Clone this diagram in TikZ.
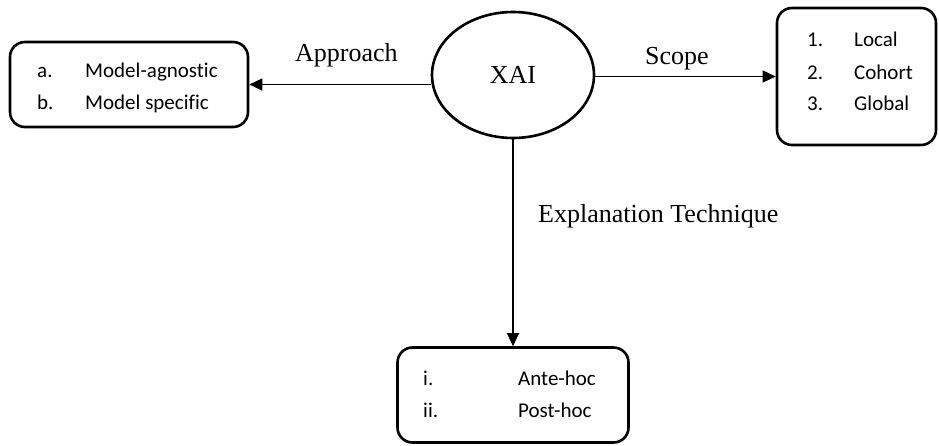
\documentclass[tikz,border=0pt]{standalone}
\usepackage{fontspec}
\setmainfont{Liberation Serif}
\newfontfamily\calibri[Ligatures={NoCommon}]{Carlito}
\usetikzlibrary{shapes.geometric,arrows.meta}
\begin{document}
\begin{tikzpicture}[x=1pt,y=-1pt,
  box/.style={draw,line width=2.6pt,rounded corners=15pt,inner sep=0pt},
  conn/.style={line width=1.3pt,-{Triangle[length=13pt,width=12pt]}},
  lbl/.style={anchor=base west,inner sep=0pt,font=\fontsize{26}{30}\selectfont},
  item/.style={anchor=base west,inner sep=0pt,font=\calibri\fontsize{21}{25}\selectfont}]
\useasboundingbox (0,0) rectangle (939,446);
% boxes
\node[box,minimum width=238pt,minimum height=85pt] (left) at (129,84.5) {};
\node[box,minimum width=159pt,minimum height=137pt] (right) at (856.5,76.5) {};
\node[box,minimum width=231pt,minimum height=95pt] (bottom) at (513,395) {};
% ellipse
\node[draw,ellipse,line width=2.6pt,minimum width=162pt,minimum height=126pt,inner sep=0pt,
  font=\fontsize{26}{30}\selectfont] (xai) at (513,75) {\raisebox{-3pt}{XAI}};
% connectors
\draw[conn] (xai.west |- left.east) -- (left.east);
\draw[conn] (xai.east |- right.west) -- (right.west);
\draw[conn] (xai.south) -- (bottom.north);
% labels
\node[lbl] (lapp) at (295,62) {Approach};
\node[lbl] (lscope) at (645,65) {Scope};
\node[lbl] (ltech) at (538,223) {Explanation Technique};
% left box items
\node[item] (la) at (37,78) {a.};
\node[item] (lat) at (85,78) {Model-agnostic};
\node[item] (lb) at (37,110) {b.};
\node[item] (lbt) at (85,110) {Model specific};
% right box items
\node[item] (r1) at (807,47) {1.};
\node[item] (r1t) at (854,47) {Local};
\node[item] (r2) at (807,80) {2.};
\node[item] (r2t) at (854,80) {Cohort};
\node[item] (r3) at (807,111) {3.};
\node[item] (r3t) at (854,111) {Global};
% bottom box items
\node[item] (bi) at (423,385) {i.};
\node[item] (bit) at (518,385) {Ante-hoc};
\node[item] (bii) at (423,417) {ii.};
\node[item] (biit) at (518,417) {Post-hoc};
\end{tikzpicture}
\end{document}
